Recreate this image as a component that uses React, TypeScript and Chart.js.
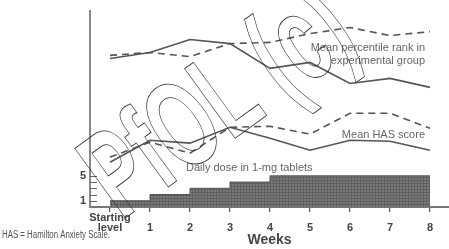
import React, { useEffect, useRef } from "react";
import { Chart, registerables } from "chart.js";

Chart.register(...registerables);

const FONT = "'Liberation Sans', Arial, sans-serif";

// x positions: 0 = starting level, 1..8 = weeks
const weeks = [0, 1, 2, 3, 4, 5, 6, 7, 8];
const weekLabels: (string | string[])[] = [["Starting", "level"], "1", "2", "3", "4", "5", "6", "7", "8"];

// relative positions (0-100) of the curves (no numeric axis in the original)
const percentileSolid = [75.6, 78.7, 85.3, 83.2, 70.6, 73.6, 62.9, 65.5, 60.9];
const percentileDashed = [77.2, 78.7, 76.6, 83.2, 83.8, 88.3, 91.4, 87.3, 89.3];
const hasSolid = [22.8, 34.0, 32.5, 40.6, 35.0, 28.9, 34.0, 33.5, 28.9];
const hasDashed = [25.4, 33.0, 27.4, 40.6, 41.1, 37.1, 47.7, 47.7, 40.1];

// daily dose (1-mg tablets), step chart
const doseWeeks = [0, 1, 2, 3, 4, 8];
const doseValues = [1, 2, 3, 4, 5, 5];
const doseTicks = [1, 2, 3, 4, 5];
const doseTickLabels = ["1", "", "", "", "5"];

const pctLabel = ["Mean percentile rank in", "experimental group"];
const hasLabel = "Mean HAS score";
const doseLabel = "Daily dose in 1-mg tablets";
const noteText = "HAS = Hamilton Anxiety Scale.";
const xTitle = "Weeks";
const watermark = "PfOL (c)";

function makePattern(): CanvasPattern | string {
  const c = document.createElement("canvas");
  c.width = 3;
  c.height = 3;
  const g = c.getContext("2d");
  if (!g) return "#777";
  g.fillStyle = "#7a7a7a";
  g.fillRect(0, 0, 3, 3);
  g.fillStyle = "#5f5f5f";
  g.fillRect(0, 0, 3, 1);
  g.fillRect(0, 0, 1, 3);
  const p = g.createPattern(c, "repeat");
  return p || "#777";
}

export default function App() {
  const ref = useRef<HTMLCanvasElement>(null);
  useEffect(() => {
    if (!ref.current) return;
    const pts = (arr: number[]) => arr.map((v, i) => ({ x: weeks[i], y: v }));
    const lineDs = (label: string, arr: number[], dash: number[]) => ({
      type: "line" as const,
      label,
      data: pts(arr),
      yAxisID: "y2",
      borderColor: "#555",
      borderWidth: 1.6,
      borderDash: dash,
      pointRadius: 0,
      fill: false,
      tension: 0,
    });

    const overlay = {
      id: "overlay",
      afterDraw(chart: any) {
        const ctx = chart.ctx as CanvasRenderingContext2D;
        const xs = chart.scales.x;
        const ys = chart.scales.y;
        const y2 = chart.scales.y2;
        const area = chart.chartArea;
        ctx.save();
        // inner ticks on dose axis
        ctx.strokeStyle = "#666";
        ctx.lineWidth = 1;
        doseTicks.forEach((v) => {
          const py = Math.round(ys.getPixelForValue(v)) + 0.5;
          ctx.beginPath();
          ctx.moveTo(area.left, py);
          ctx.lineTo(area.left + 7, py);
          ctx.stroke();
        });
        // annotations
        ctx.fillStyle = "#666";
        ctx.textBaseline = "middle";
        ctx.font = `11px ${FONT}`;
        ctx.textAlign = "right";
        const rx = xs.getPixelForValue(8) - 5;
        ctx.fillText(pctLabel[0], rx, y2.getPixelForValue(81.2));
        ctx.fillText(pctLabel[1], rx, y2.getPixelForValue(74.1));
        ctx.fillText(hasLabel, rx, y2.getPixelForValue(36.5));
        ctx.textAlign = "left";
        ctx.fillText(doseLabel, xs.getPixelForValue(1.9), ys.getPixelForValue(6.2));
        // footnote
        ctx.fillStyle = "#555";
        ctx.font = `10px ${FONT}`;
        const w = ctx.measureText(noteText).width;
        ctx.save();
        ctx.translate(2, 235);
        ctx.scale(108 / w, 1);
        ctx.fillText(noteText, 0, 0);
        ctx.restore();
        // watermark outline
        ctx.save();
        ctx.translate(221, 106);
        ctx.rotate((-36 * Math.PI) / 180);
        ctx.scale(0.61, 1);
        ctx.font = `bold 125px ${FONT}`;
        ctx.textAlign = "center";
        ctx.textBaseline = "middle";
        ctx.strokeStyle = "#333";
        ctx.lineWidth = 0.9;
        ctx.strokeText(watermark, 0, 0);
        ctx.restore();
        ctx.restore();
      },
    };

    const chart = new Chart(ref.current, {
      type: "line",
      data: {
        datasets: [
          {
            type: "line",
            label: "dose",
            data: doseWeeks.map((x, i) => ({ x, y: doseValues[i] })),
            yAxisID: "y",
            stepped: true,
            fill: "origin",
            backgroundColor: makePattern() as any,
            borderColor: "#555",
            borderWidth: 1,
            pointRadius: 0,
          },
          lineDs("percentile solid", percentileSolid, []),
          lineDs("percentile dashed", percentileDashed, [7, 5]),
          lineDs("HAS solid", hasSolid, []),
          lineDs("HAS dashed", hasDashed, [7, 5]),
        ],
      },
      options: {
        animation: false,
        responsive: true,
        maintainAspectRatio: false,
        devicePixelRatio: 1,
        layout: { padding: { left: 0, right: 0, top: 10, bottom: 0 } },
        plugins: { legend: { display: false }, tooltip: { enabled: false } },
        scales: {
          x: {
            type: "linear",
            min: -0.5,
            max: 8.475,
            afterBuildTicks: (s: any) => {
              s.ticks = weeks.map((v) => ({ value: v }));
            },
            afterFit: (s: any) => {
              s.height = 42;
            },
            ticks: {
              autoSkip: false,
              maxRotation: 0,
              minRotation: 0,
              padding: 6,
              crossAlign: "far",
              color: "#444",
              font: { family: FONT, size: 11, weight: "bold", lineHeight: 0.95 },
              callback: (v: any) => weekLabels[weeks.indexOf(Number(v))] as any,
            },
            grid: { drawOnChartArea: false, tickLength: 5, color: "#555", lineWidth: 1.2 },
            border: { color: "#777", width: 2 },
            title: {
              display: true,
              text: xTitle,
              color: "#444",
              font: { family: FONT, size: 14, weight: "bold" },
              padding: 0,
            },
          },
          y: {
            min: 0,
            max: 31.5,
            position: "left",
            afterBuildTicks: (s: any) => {
              s.ticks = doseTicks.map((v) => ({ value: v }));
            },
            afterFit: (s: any) => {
              s.width = 90;
            },
            ticks: {
              padding: 4,
              color: "#444",
              font: { family: FONT, size: 11, weight: "bold" },
              callback: (v: any) => doseTickLabels[doseTicks.indexOf(Number(v))],
            },
            grid: { drawOnChartArea: false, drawTicks: false },
            border: { color: "#888", width: 2 },
          },
          y2: { display: false, min: 0, max: 100 },
        },
      } as any,
      plugins: [overlay],
    });
    return () => chart.destroy();
  }, []);

  return (
    <div style={{ position: "fixed", left: 0, top: 0, width: 449, height: 249, background: "#fff" }}>
      <canvas ref={ref} />
    </div>
  );
}
